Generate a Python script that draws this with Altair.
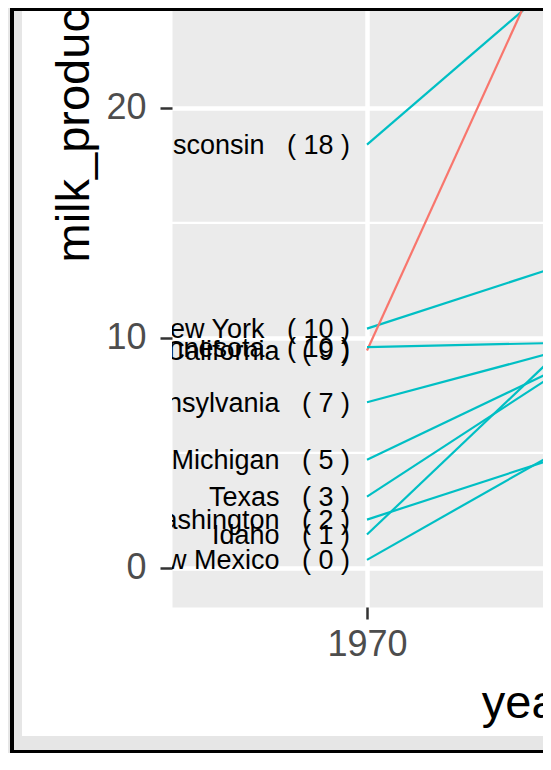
import altair as alt
import pandas as pd

# ---- data (milk production, billions of lbs) ----
states = ["Wisconsin", "New York", "California", "Minnesota", "Pennsylvania",
          "Michigan", "Texas", "Washington", "Idaho", "New Mexico"]
v1970 = [18.4, 10.4, 9.45, 9.6, 7.2, 4.7, 3.1, 2.1, 1.45, 0.35]
v2017 = [30.3, 14.9, 39.8, 9.9, 10.9, 11.3, 12.1, 6.6, 14.6, 8.2]
years = [1970, 2017]
highlight = ["California"]
y_breaks = [0, 10, 20]
y_minor = [5, 15]
x_breaks = [1970]

rows = []
for s, a, b in zip(states, v1970, v2017):
    g = "hi" if s in highlight else "lo"
    rows.append({"state": s, "year": years[0], "value": a, "grp": g})
    rows.append({"state": s, "year": years[1], "value": b, "grp": g})
lines_df = pd.DataFrame(rows)

NB = "\u00a0"
labels_df = pd.DataFrame({
    "state": states,
    "year": [years[0]] * len(states),
    "value": v1970,
    "label": [f"{s}{NB}{NB}{NB}({NB}{round(v)}{NB})" for s, v in zip(states, v1970)],
})
minor_df = pd.DataFrame({"value": y_minor})

FONT = "Liberation Sans, Arial, Helvetica, sans-serif"

xscale = alt.Scale(domain=[1941.18, 1996.01], nice=False, zero=False)
yscale = alt.Scale(domain=[-1.7, 24.34], nice=False, zero=False)

xaxis = alt.Axis(values=x_breaks, format="d", title="year",
                 labelFontSize=36, labelColor="#4D4D4D", labelFont=FONT,
                 tickSize=12, tickWidth=2.5, tickColor="#333333", labelPadding=8,
                 domain=False, grid=True, gridColor="white", gridWidth=4.5,
                 titleFont=FONT, titleFontSize=47, titleFontWeight="normal",
                 titleColor="black", titleX=355, titleY=110,
                 titleAlign="center", titleBaseline="alphabetic")
yaxis = alt.Axis(values=y_breaks, title="milk_production",
                 labelFontSize=36, labelColor="#4D4D4D", labelFont=FONT,
                 tickSize=12, tickWidth=2.5, tickColor="#333333", labelPadding=14,
                 domain=False, grid=True, gridColor="white", gridWidth=4.5,
                 titleFont=FONT, titleFontSize=47, titleFontWeight="normal",
                 titleColor="black", titleAngle=270, titleAlign="left",
                 titleBaseline="alphabetic", titleX=-84, titleY=254)

X = alt.X("year:Q", scale=xscale, axis=xaxis)
Y = alt.Y("value:Q", scale=yscale, axis=yaxis)

minor = alt.Chart(minor_df).mark_rule(color="white", strokeWidth=2.2).encode(y=Y)

lines = alt.Chart(lines_df).mark_line(strokeWidth=2.2, clip=True).encode(
    x=X, y=Y, detail="state:N",
    color=alt.Color("grp:N", scale=alt.Scale(domain=["hi", "lo"],
                                             range=["#F8766D", "#00BFC4"]),
                    legend=None),
)

texts = alt.Chart(labels_df).mark_text(
    align="right", baseline="middle", dx=-17, dy=1.5, fontSize=27, font=FONT,
    color="black", clip=True
).encode(x=X, y=Y, text="label:N")

one = alt.Data(values=[{"k": 1}])


def box(x1, x2, y1, y2, color):
    return alt.Chart(one).mark_rect(color=color).encode(
        x=alt.value(x1), x2=alt.value(x2), y=alt.value(y1), y2=alt.value(y2))


frame = [
    box(-164, -162, 0, 746, "#E6E6E6"),
    box(-162, -158, 0, 746, "black"),
    box(-158, -150, 0, 742, "#E6E6E6"),
    box(-158, 371, 728, 742, "#E6E6E6"),
    box(-162, 371, 742, 746, "black"),
    box(-162, 371, 0, 3, "black"),
]

chart = alt.layer(minor, lines, texts, *frame).properties(
    width=371, height=599,
    autosize=alt.AutoSizeParams(type="none"),
    padding={"left": 164, "top": 0, "right": 0, "bottom": 146},
    background="white",
).configure_view(fill="#EBEBEB", stroke="transparent")

chart.save("out.html", embed_options={"renderer": "svg", "actions": False})
